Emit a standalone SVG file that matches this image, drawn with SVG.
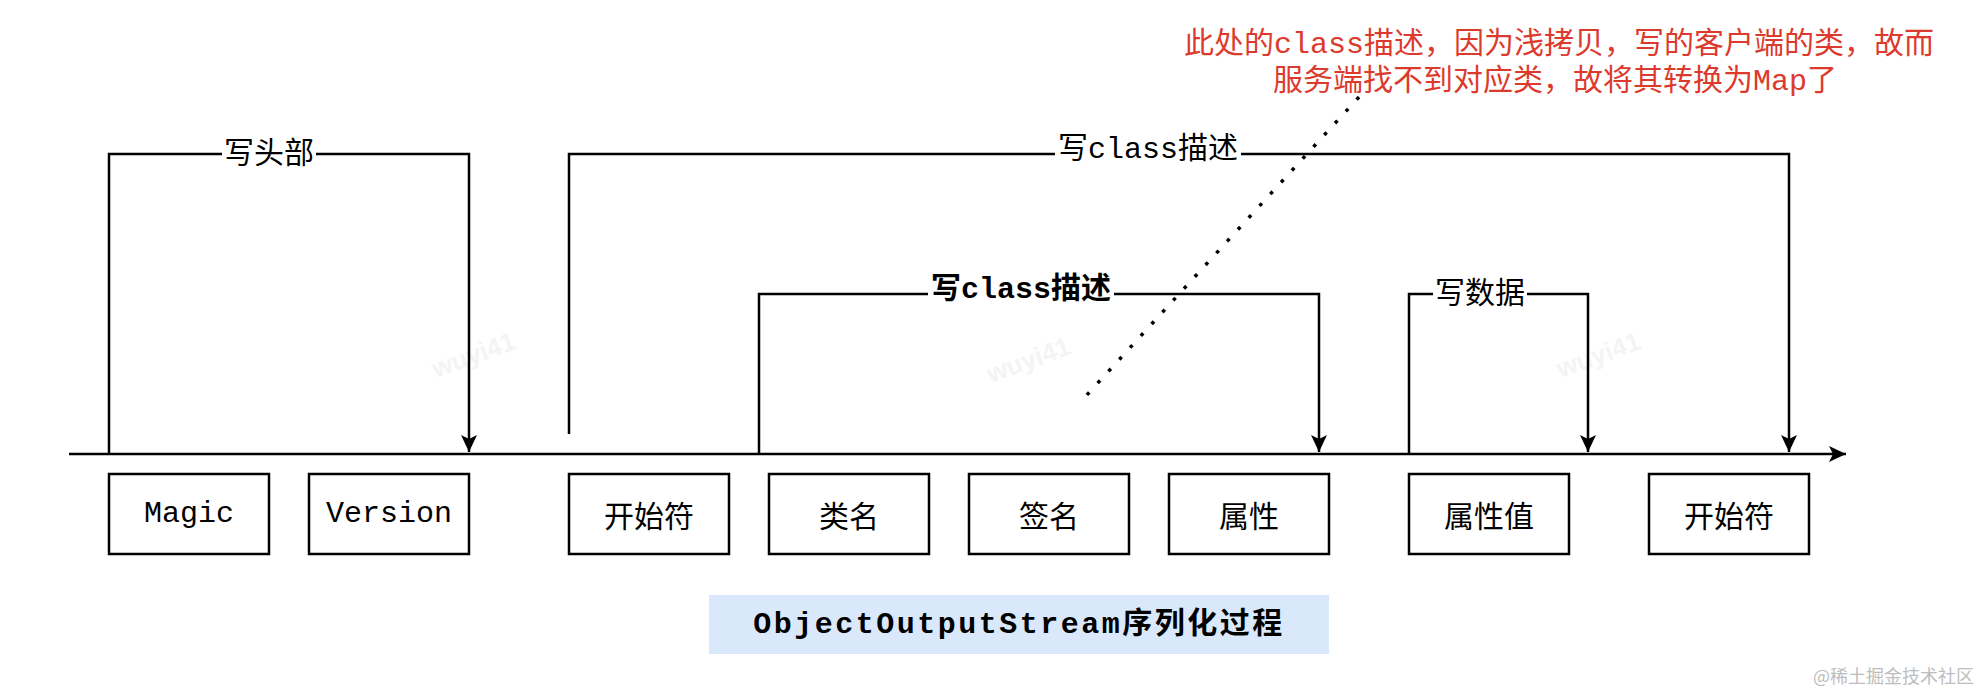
<svg xmlns="http://www.w3.org/2000/svg" width="1982" height="692" viewBox="0 0 1982 692">
<style>
.box{fill:#fff;stroke:#000;stroke-width:2.5}
.conn{fill:none;stroke:#000;stroke-width:2.5}
.cjk{font-family:"Noto Sans CJK SC","Liberation Sans",sans-serif;font-size:30px;fill:#000}
.mono{font-family:"Liberation Mono","Noto Sans CJK SC",monospace;font-size:30px;fill:#000}
.lbl{dominant-baseline:central;text-anchor:middle}
.bg{fill:#fff}
.wm{font-family:"Liberation Sans",sans-serif;font-size:26px;font-weight:bold;fill:#f4f4f4}
.note{fill:#dc3a2d}
</style>
<defs>
<marker id="arr" markerUnits="userSpaceOnUse" markerWidth="20" markerHeight="20" viewBox="0 -10 20 20" refX="17" refY="0" orient="auto">
<path d="M0,-8 L17,0 L0,8 L4,0 Z" fill="#000"/>
</marker>
</defs>
<rect width="1982" height="692" fill="#fff"/>
<g id="watermarks">
<text class="wm" x="430" y="365" transform="rotate(-20 470 355)">wuyi41</text>
<text class="wm" x="985" y="370" transform="rotate(-20 1025 360)">wuyi41</text>
<text class="wm" x="1555" y="365" transform="rotate(-20 1595 355)">wuyi41</text>
</g>
<g id="connectors">
<path class="conn" d="M69,454 H1846" marker-end="url(#arr)"/>
<path class="conn" d="M109,454 V154 H469 V452" marker-end="url(#arr)"/>
<path class="conn" d="M569,434 V154 H1789 V452" marker-end="url(#arr)"/>
<path class="conn" d="M759,454 V294 H1319 V452" marker-end="url(#arr)"/>
<path class="conn" d="M1409,454 V294 H1588 V452" marker-end="url(#arr)"/>
<path d="M1359,97 L1085,397" fill="none" stroke="#000" stroke-width="3.5" stroke-dasharray="3.5 12.5"/>
</g>
<g id="label-header">
<rect class="bg" x="222" y="136" width="94" height="32"/>
<text class="cjk lbl" x="269" y="150">写头部</text>
</g>
<g id="label-class-outer">
<rect class="bg" x="1055" y="136" width="186" height="32"/>
<text class="mono lbl" x="1148" y="150">写class描述</text>
</g>
<g id="label-class-inner">
<rect class="bg" x="928" y="276" width="186" height="32"/>
<text class="mono lbl" x="1021" y="290" font-weight="bold">写class描述</text>
</g>
<g id="label-data">
<rect class="bg" x="1433" y="276" width="94" height="32"/>
<text class="cjk lbl" x="1480" y="290">写数据</text>
</g>
<g id="node-magic">
<rect class="box" x="109" y="474" width="160" height="80"/>
<text class="mono lbl" x="189" y="514">Magic</text>
</g>
<g id="node-version">
<rect class="box" x="309" y="474" width="160" height="80"/>
<text class="mono lbl" x="389" y="514">Version</text>
</g>
<g id="node-start1">
<rect class="box" x="569" y="474" width="160" height="80"/>
<text class="cjk lbl" x="649" y="514">开始符</text>
</g>
<g id="node-classname">
<rect class="box" x="769" y="474" width="160" height="80"/>
<text class="cjk lbl" x="849" y="514">类名</text>
</g>
<g id="node-signature">
<rect class="box" x="969" y="474" width="160" height="80"/>
<text class="cjk lbl" x="1049" y="514">签名</text>
</g>
<g id="node-fields">
<rect class="box" x="1169" y="474" width="160" height="80"/>
<text class="cjk lbl" x="1249" y="514">属性</text>
</g>
<g id="node-values">
<rect class="box" x="1409" y="474" width="160" height="80"/>
<text class="cjk lbl" x="1489" y="514">属性值</text>
</g>
<g id="node-start2">
<rect class="box" x="1649" y="474" width="160" height="80"/>
<text class="cjk lbl" x="1729" y="514">开始符</text>
</g>
<g id="title">
<rect x="709" y="595" width="620" height="59" fill="#dae8fc"/>
<text class="mono lbl" x="1019" y="625" font-size="35" font-weight="bold" letter-spacing="2.5">ObjectOutputStream序列化过程</text>
</g>
<g id="note">
<text class="mono lbl note" x="1559" y="45">此处的class描述，因为浅拷贝，写的客户端的类，故而</text>
<text class="mono lbl note" x="1555" y="82">服务端找不到对应类，故将其转换为Map了</text>
</g>
<g id="site-mark">
<text x="1974" y="683" text-anchor="end" font-family="Noto Sans CJK SC, sans-serif" font-size="18" fill="#bdbdbd">@稀土掘金技术社区</text>
</g>
</svg>
